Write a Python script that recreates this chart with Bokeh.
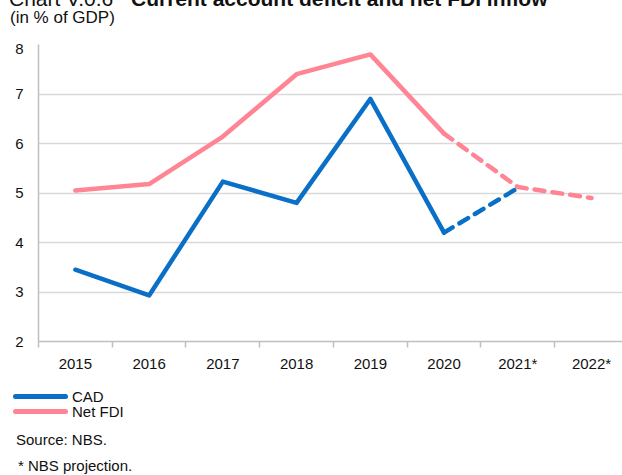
from bokeh.plotting import figure
from bokeh.models import Range1d, FixedTicker, Div
from bokeh.layouts import column
from bokeh.embed import file_html
from bokeh.resources import INLINE

categories = ["2015", "2016", "2017", "2018", "2019", "2020", "2021*", "2022*"]
cad = [3.45, 2.93, 5.23, 4.80, 6.90, 4.20, 5.10, None]
net_fdi = [5.05, 5.18, 6.14, 7.40, 7.80, 6.20, 5.12, 4.90]
proj_start = 5  # index of last actual year (2020)
y_ticks = [2, 3, 4, 5, 6, 7, 8]
series_names = ["CAD", "Net FDI"]

title_plain = "Chart V.0.6"
title_bold = "Current account deficit and net FDI inflow"
subtitle = "(in % of GDP)"
source_note = "Source: NBS."
proj_note = "* NBS projection."

BLUE = "#0a6fc6"
PINK = "#ff8494"
FONT = "Liberation Sans"
TXT = "#111111"

xs = list(range(len(categories)))

HEADER_H = 33
# ---- header (title partly cut by the top edge, as in the source image) ----
header_html = (
    f'<div style="display:block;position:relative;margin:0;width:622px;height:{HEADER_H}px;'
    f'font-family:\'{FONT}\';color:{TXT};line-height:1.15;">'
    f'<div style="position:absolute;left:4px;top:-18px;font-size:21px;white-space:nowrap;">{title_plain}</div>'
    f'<div style="position:absolute;left:126px;top:-18px;font-size:21px;font-weight:bold;white-space:nowrap;">{title_bold}</div>'
    f'<div style="position:absolute;left:5px;top:3px;font-size:17px;white-space:nowrap;">{subtitle}</div>'
    f'</div>')
header = Div(text=header_html, width=622, height=HEADER_H,
             styles={"overflow": "visible"})

p = figure(width=622, height=343, output_backend="svg", toolbar_location=None,
           title_location=None,
           x_range=Range1d(-0.5, 7.42), y_range=Range1d(2, 8),
           min_border_left=38, min_border_right=0, min_border_top=1,
           min_border_bottom=45)
p.outline_line_color = None
p.background_fill_color = "white"
p.border_fill_color = "white"

# grid
p.xgrid.grid_line_color = None
p.ygrid.ticker = FixedTicker(ticks=y_ticks)
p.ygrid.grid_line_color = "#d9d9d9"
p.ygrid.grid_line_width = 1.5

# y axis
p.yaxis.ticker = FixedTicker(ticks=y_ticks)
p.yaxis.axis_line_color = "#bfbfbf"
p.yaxis.axis_line_width = 1.5
p.yaxis.major_tick_out = 0
p.yaxis.major_tick_in = 0
p.yaxis.minor_tick_out = 0
p.yaxis.minor_tick_in = 0
p.yaxis.major_label_standoff = 15
p.yaxis.major_label_text_font = FONT
p.yaxis.major_label_text_font_size = "15px"
p.yaxis.major_label_text_color = TXT

# x axis: labels at category centres, tick marks at boundaries
p.xaxis.ticker = FixedTicker(ticks=xs, minor_ticks=[i - 0.5 for i in range(len(categories) + 1)])
p.xaxis.major_label_overrides = {i: c for i, c in enumerate(categories)}
p.xaxis.axis_line_color = "#bfbfbf"
p.xaxis.axis_line_width = 1.5
p.xaxis.major_tick_out = 0
p.xaxis.major_tick_in = 0
p.xaxis.minor_tick_out = 6
p.xaxis.minor_tick_in = 0
p.xaxis.minor_tick_line_color = "#bfbfbf"
p.xaxis.minor_tick_line_width = 1.5
p.xaxis.major_label_standoff = 7
p.xaxis.major_label_text_font = FONT
p.xaxis.major_label_text_font_size = "15px"
p.xaxis.major_label_text_color = TXT

LW = 4.5
# CAD
p.line(xs[:proj_start + 1], cad[:proj_start + 1], line_color=BLUE, line_width=LW,
       line_cap="round", line_join="round")
cad_x = [x for x, v in zip(xs[proj_start:], cad[proj_start:]) if v is not None]
cad_y = [v for v in cad[proj_start:] if v is not None]
p.line(cad_x, cad_y, line_color=BLUE, line_width=LW, line_dash="10 8",
       line_cap="round", line_join="round")
# Net FDI
p.line(xs[:proj_start + 1], net_fdi[:proj_start + 1], line_color=PINK, line_width=LW,
       line_cap="round", line_join="round")
p.line(xs[proj_start:], net_fdi[proj_start:], line_color=PINK, line_width=LW, line_dash="10 8",
       line_cap="round", line_join="round")

# ---- legend + notes below the chart ----
def legend_row(name, color, top):
    return (f'<div style="position:absolute;left:8px;top:{top}px;height:15px;line-height:15px;'
            f'display:flex;align-items:center;white-space:nowrap;">'
            f'<span style="display:inline-block;width:55px;height:4.5px;border-radius:2.5px;background:{color};"></span>'
            f'<span style="margin-left:4px;">{name}</span></div>')

notes_html = (
    f'<div style="display:block;position:relative;margin:0;width:622px;height:84px;'
    f'font-family:\'{FONT}\';color:{TXT};font-size:15px;line-height:1.15;">'
    + legend_row(series_names[0], BLUE, -2)
    + legend_row(series_names[1], PINK, 13)
    + f'<div style="position:absolute;left:11px;top:40px;white-space:nowrap;">{source_note}</div>'
    + f'<div style="position:absolute;left:13px;top:66px;white-space:nowrap;">{proj_note}</div>'
    + '</div>')
notes = Div(text=notes_html, width=622, height=84, styles={"overflow": "visible"})

layout = column(header, p, notes, spacing=0)
open("out.html", "w").write(file_html(layout, INLINE))
